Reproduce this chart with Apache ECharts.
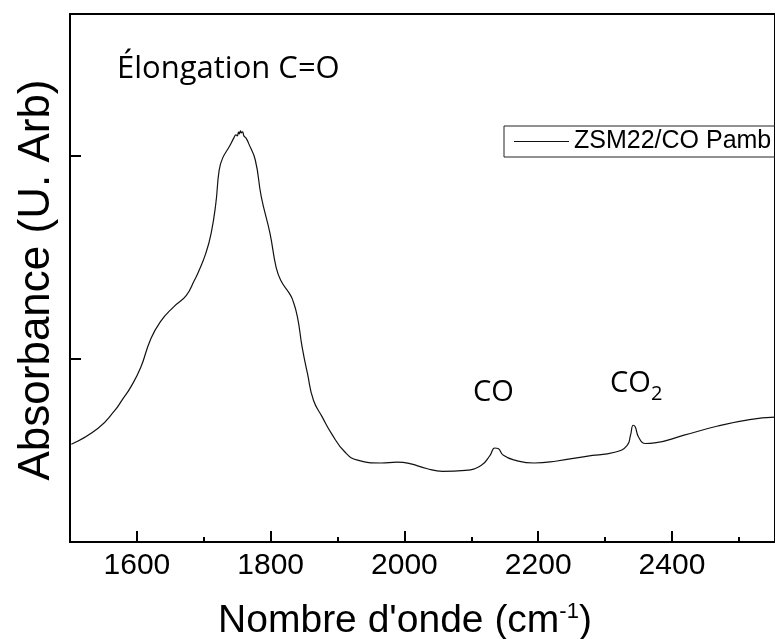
<!DOCTYPE html>
<html>
<head>
<meta charset="utf-8">
<title>ZSM22/CO Pamb – spectre IR</title>
<script src="https://cdn.jsdelivr.net/npm/echarts@6/dist/echarts.min.js"></script>
<style>
  html, body { margin: 0; padding: 0; background: #fff; }
  #chart { width: 775px; height: 639px; }
</style>
</head>
<body>
<div id="chart"></div>
<script>
// Spectrum samples: wavenumber (cm-1) and absorbance (arbitrary units)
const wavenumber = [
  1502, 1542, 1567, 1578, 1591, 1606, 1620, 1635, 1655, 1674, 1686, 1691, 1703, 1711, 1718,
  1723, 1728, 1738, 1745, 1748, 1750, 1752, 1753, 1755, 1756, 1758, 1760, 1763, 1767,
  1777, 1786, 1799, 1808, 1815, 1828, 1833, 1840, 1847, 1855, 1864, 1877, 1891, 1911,
  1930, 1965, 1989, 2008, 2033, 2057, 2091, 2115, 2128, 2135, 2140, 2148, 2165, 2194,
  2228, 2272, 2316, 2333, 2338, 2342, 2345, 2350, 2360, 2374, 2418, 2467, 2516, 2554
];
const absorbance = [
  0.581, 0.660, 0.748, 0.800, 0.864, 0.962, 1.094, 1.184, 1.258, 1.315, 1.389, 1.422, 1.521, 1.620, 1.767,
  1.931, 1.989, 2.046, 2.090, 2.105, 2.100, 2.118, 2.110, 2.125, 2.115, 2.120, 2.100, 2.090, 2.063,
  1.981, 1.800, 1.620, 1.455, 1.389, 1.324, 1.291, 1.209, 1.061, 0.930, 0.798, 0.716, 0.634, 0.543,
  0.503, 0.489, 0.493, 0.486, 0.462, 0.448, 0.453, 0.478, 0.527, 0.563, 0.560, 0.527, 0.503, 0.489,
  0.499, 0.522, 0.543, 0.576, 0.626, 0.675, 0.667, 0.617, 0.585, 0.588, 0.626, 0.670, 0.703, 0.715
];

const seriesName = 'ZSM22/CO Pamb';
const xMajorTicks = [1600, 1800, 2000, 2200, 2400];
const xMinorTicks = [1700, 1900, 2100, 2300, 2500];
const yTicks = [1, 2];

const xRange = [1500, 2554];
const yRange = [0.1, 2.7];

const points = wavenumber.map((w, i) => [w, absorbance[i]]);

const chart = echarts.init(document.getElementById('chart'), null, { renderer: 'canvas' });

const axisFont = 'Liberation Sans, Arial, sans-serif';
const noteFont = 'Open Sans, Noto Sans, sans-serif';

chart.setOption({
  animation: false,
  backgroundColor: '#ffffff',
  grid: {
    left: 70, right: -15, top: 14, bottom: 97,
    show: true, borderColor: '#000', borderWidth: 2
  },
  legend: {
    data: [{ name: seriesName, icon: 'rect' }],
    left: 504, top: 126,
    padding: [3, 8, 3, 10],
    itemWidth: 55, itemHeight: 1.2,
    itemStyle: { color: '#111' },
    borderColor: '#222', borderWidth: 1,
    textStyle: { fontFamily: axisFont, fontSize: 25, color: '#000' }
  },
  xAxis: [
    {
      type: 'value', min: xRange[0], max: xRange[1],
      position: 'bottom',
      splitLine: { show: false },
      axisLine: { lineStyle: { color: '#000', width: 2 } },
      axisTick: { inside: true, length: 11, customValues: xMajorTicks, lineStyle: { color: '#000', width: 2 } },
      axisLabel: {
        customValues: xMajorTicks, margin: 9,
        formatter: (v) => String(v),
        fontFamily: axisFont, fontSize: 30, color: '#000'
      }
    },
    {
      type: 'value', min: xRange[0], max: xRange[1],
      position: 'bottom',
      splitLine: { show: false },
      axisLine: { show: false },
      axisTick: { inside: true, length: 5, customValues: xMinorTicks, lineStyle: { color: '#000', width: 2 } },
      axisLabel: { show: false }
    }
  ],
  yAxis: {
    type: 'value', min: yRange[0], max: yRange[1],
    splitLine: { show: false },
    axisLine: { show: true, lineStyle: { color: '#000', width: 2 } },
    axisTick: { inside: true, length: 11, customValues: yTicks, lineStyle: { color: '#000', width: 2 } },
    axisLabel: { show: false }
  },
  series: [{
    name: seriesName,
    type: 'line',
    xAxisIndex: 0,
    data: points,
    symbol: 'none',
    smooth: 0.5,
    lineStyle: { color: '#111', width: 1.2 },
    itemStyle: { color: '#111' }
  }],
  graphic: [
    {
      type: 'text', x: 37, y: 280, rotation: Math.PI / 2,
      style: { text: 'Absorbance (U. Arb)', font: '44px ' + axisFont, fill: '#000', align: 'center', verticalAlign: 'middle' }
    },
    {
      type: 'text', x: 405, y: 621,
      style: {
        text: '{m|Nombre d\'onde (cm}{s|-1}{m|)}',
        fill: '#000', align: 'center', verticalAlign: 'middle',
        rich: {
          m: { fontFamily: axisFont, fontSize: 39, fill: '#000' },
          s: { fontFamily: axisFont, fontSize: 22, fill: '#000', verticalAlign: 'top', padding: [0, 0, 18, 0] }
        }
      }
    },
    {
      type: 'text', x: 117, y: 69,
      style: { text: 'Élongation C=O', font: '31px ' + noteFont, fill: '#000', align: 'left', verticalAlign: 'middle' }
    },
    {
      type: 'text', x: 473, y: 393,
      style: { text: 'CO', font: '29px ' + noteFont, fill: '#000', align: 'left', verticalAlign: 'middle' }
    },
    {
      type: 'text', x: 610, y: 384,
      style: { text: 'CO', font: '29px ' + noteFont, fill: '#000', align: 'left', verticalAlign: 'middle' }
    },
    {
      type: 'text', x: 651, y: 394,
      style: { text: '2', font: '20px ' + noteFont, fill: '#000', align: 'left', verticalAlign: 'middle' }
    }
  ]
});
</script>
</body>
</html>
